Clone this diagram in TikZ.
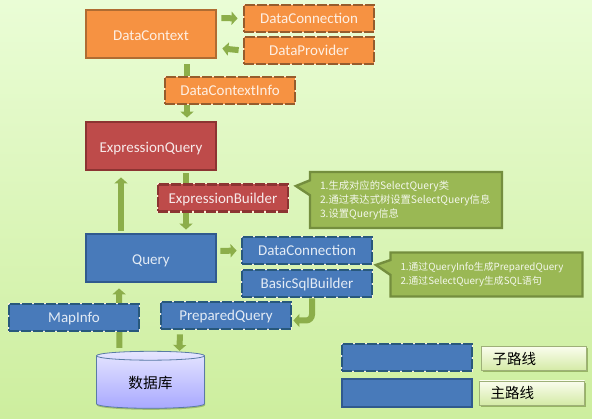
\documentclass[tikz,border=0pt]{standalone}
\usepackage{fontspec}
\setmainfont{Carlito}
\newfontfamily\cjk{Noto Sans CJK SC}
\usetikzlibrary{arrows.meta, backgrounds, shadows, shapes.geometric, shapes.callouts}

\definecolor{orangefill}{RGB}{246,146,66}
\definecolor{orangeline}{RGB}{176,108,50}
\definecolor{orangedash}{RGB}{150,92,44}
\definecolor{redfill}{RGB}{190,75,74}
\definecolor{redline}{RGB}{140,52,50}
\definecolor{bluefill}{RGB}{72,122,186}
\definecolor{blueline}{RGB}{48,90,142}
\definecolor{bluedash}{RGB}{40,88,124}
\definecolor{greenarrow}{RGB}{140,174,74}
\definecolor{notefill}{RGB}{154,184,84}
\definecolor{noteline}{RGB}{116,142,62}
\definecolor{gapcream}{RGB}{250,240,215}
\definecolor{bgtop}{RGB}{234,253,214}
\definecolor{bgmid}{RGB}{226,250,200}
\definecolor{bgbottom}{RGB}{205,238,158}
\definecolor{tagtop}{RGB}{250,253,238}
\definecolor{tagbottom}{RGB}{212,234,166}

\tikzset{
  mainbox/.style={draw=#1, line width=2.8pt, minimum width=130pt, minimum height=48pt,
    text height=12.5pt, text depth=0pt, font=\fontsize{15}{17}\selectfont},
  subbox/.style={draw=#1, line width=2.8pt, dash pattern=on 10pt off 2pt,
    preaction={draw=gapcream, solid}, minimum width=130pt, minimum height=27pt,
    text height=11pt, text depth=0pt, font=\fontsize{15}{17}\selectfont},
  flow/.style={draw=greenarrow, line width=6pt, -{Triangle[length=6pt,width=13pt]}},
  notebox/.style={rectangle callout, fill=notefill, draw=noteline, line width=2.4pt, callout pointer width=15pt,
    align=left, text=white!88!notefill, inner xsep=10pt, font=\fontsize{10.3}{14}\selectfont\cjk},
  tagbox/.style={draw=noteline!70, line width=.8pt, top color=tagtop, bottom color=tagbottom,
    text width=83pt, inner xsep=11pt, align=left, minimum height=24pt, font=\fontsize{14.5}{16}\selectfont\cjk,
    drop shadow={shadow xshift=1pt, shadow yshift=-2pt, fill=noteline, opacity=.6}},
}

\begin{document}
\begin{tikzpicture}[x=1pt, y=-1pt]
  \useasboundingbox (0,0) rectangle (592,419);
  \begin{scope}[on background layer]
    \shade[top color=bgtop, middle color=bgmid, bottom color=bgbottom] (0,0) rectangle (592,419);
  \end{scope}

  % Orange group
  \node[mainbox=orangeline, fill=orangefill, text=white!85!orangefill] (ctx) at (151,34) {DataContext};
  \node[subbox=orangedash, fill=orangefill, text=white!85!orangefill] (conn1) at (309,18.5) {DataConnection};
  \node[subbox=orangedash, fill=orangefill, text=white!85!orangefill] (prov) at (309,50.5) {DataProvider};
  \node[subbox=orangedash, fill=orangefill, text=white!85!orangefill] (info) at (230,90.5) {DataContextInfo};

  % Red group
  \node[mainbox=redline, fill=redfill, text=white!88!redfill] (expq) at (151,146) {ExpressionQuery};
  \node[subbox=redline, fill=redfill, text=white!88!redfill] (expb) at (223,198) {ExpressionBuilder};

  % Blue group
  \node[mainbox=blueline, fill=bluefill, text=white!85!bluefill] (qry) at (151,258) {Query};
  \node[subbox=bluedash, fill=bluefill, text=white!85!bluefill] (conn2) at (307,250.5) {DataConnection};
  \node[subbox=bluedash, fill=bluefill, text=white!85!bluefill] (bsb) at (307,283.5) {BasicSqlBuilder};
  \node[subbox=bluedash, fill=bluefill, text=white!85!bluefill] (map) at (74,317.5) {MapInfo};
  \node[subbox=bluedash, fill=bluefill, text=white!85!bluefill] (prep) at (226,315.5) {PreparedQuery};

  % Database
  \node[cylinder, shape border rotate=90, shape aspect=.175, draw=blueline!80, line width=.8pt, top color=blue!10!white, bottom color=blue!34!white,
    minimum width=108pt, minimum height=57pt, font=\fontsize{14.7}{16}\selectfont\cjk,
    drop shadow={shadow xshift=.5pt, shadow yshift=-1.5pt, fill=noteline, opacity=.5}] (db) at (150.5,383) {数据库};

  % Notes
  \node[notebox, minimum width=192pt, minimum height=56pt, text width=172pt, callout absolute pointer={(296,186)}] (note1) at (406,200)
    {1.生成对应的SelectQuery类\\2.通过表达式树设置SelectQuery信息\\3.设置Query信息};
  \node[notebox, font=\fontsize{9.8}{14}\selectfont\cjk, minimum width=192pt, minimum height=44pt, text width=172pt, callout absolute pointer={(376,265)}] (note2) at (486.5,274.5)
    {1.通过QueryInfo生成PreparedQuery\\2.通过SelectQuery生成SQL语句};

  % Legend
  \node[subbox=bluedash, fill=bluefill] (legsub) at (407,357.5) {};
  \node[mainbox=blueline, fill=bluefill, minimum height=28pt] (legmain) at (407,393) {};
  \node[tagbox] (tagsub) at (534,358.5) {子路线};
  \node[tagbox] (tagmain) at (532,393) {主路线};

  % Arrows sit under the boxes
  \begin{scope}[on background layer]
    \draw[flow, shorten <=4pt, shorten >=5pt] ([yshift=16pt]ctx.east) -- (conn1.west);
    \draw[flow, shorten <=4pt, shorten >=5pt] (prov.west) -- ([yshift=-14pt]ctx.east);
    \draw[flow, shorten <=5pt, shorten >=3pt] ([xshift=36pt]ctx.south) -- ([xshift=36pt]expq.north);
    \draw[flow, shorten <=2pt, shorten >=3pt] ([xshift=35pt]expq.south) -- ([xshift=35pt]qry.north);
    \draw[flow, shorten <=2pt, shorten >=6pt] ([xshift=-30pt]qry.north) -- ([xshift=-30pt]expq.south);
    \draw[flow, shorten <=3pt, shorten >=4pt] ([yshift=7pt]qry.east) -- (conn2.west);
    \draw[flow, rounded corners=6pt, shorten >=1pt] ([xshift=5pt]bsb.south) |- ([yshift=-5pt]prep.east);
    \draw[flow, shorten <=3pt, shorten >=5pt] ([xshift=-31pt]db.north) -- ([xshift=-32pt]qry.south);
    \draw[flow, shorten <=4pt, shorten >=0pt] ([xshift=-46pt]prep.south) -- ([xshift=29pt]db.north);
  \end{scope}
\end{tikzpicture}
\end{document}
